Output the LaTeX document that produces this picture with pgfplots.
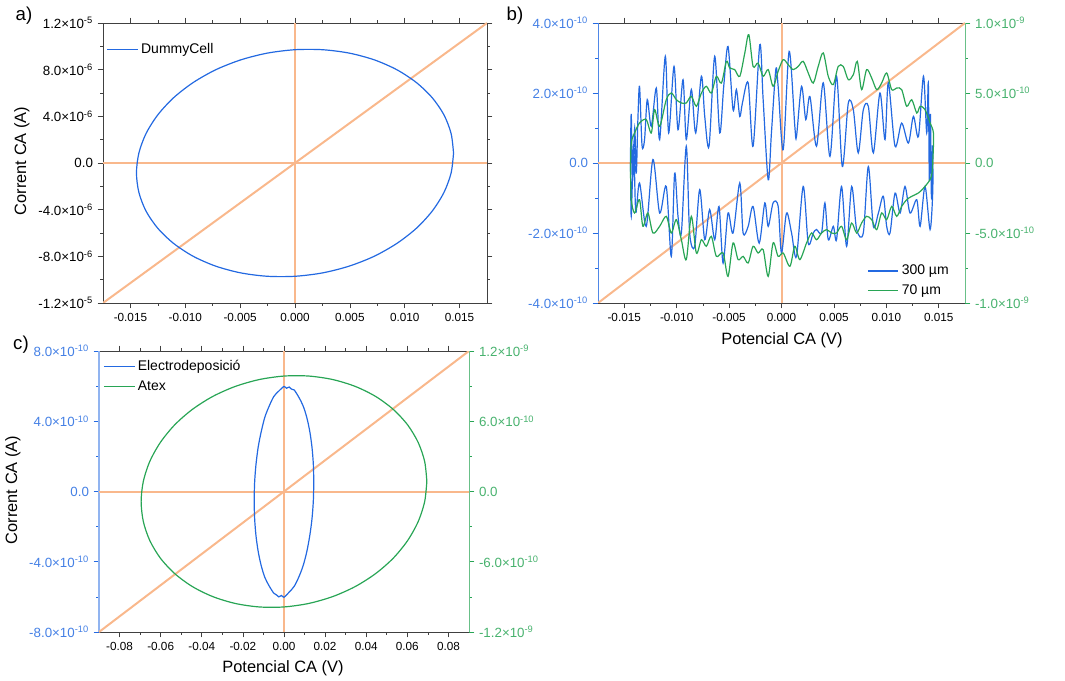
\documentclass[border=0pt]{standalone}
\usepackage{pgfplots}
\pgfplotsset{compat=1.18}
\usepackage{fontspec}
\setmainfont{Liberation Sans}
\definecolor{cblue}{RGB}{35,105,225}
\definecolor{cgreen}{RGB}{40,165,85}
\definecolor{corange}{RGB}{249,184,140}
\newcommand{\sci}[2]{#1×10\textsuperscript{\fontsize{7}{8}\selectfont #2}}
\pgfplotsset{
  base/.style={scale only axis, anchor=south west, tick align=outside,
    scaled ticks=false,
    major tick length=4pt, minor tick length=2.2pt,
    every tick/.append style={line width=0.5pt, black!75},
    x tick label style={font=\fontsize{8.8}{10}\selectfont},
    y tick label style={font=\fontsize{10}{11}\selectfont},
    axis line style={line width=0.6pt, black!75},
    legend style={draw=none, fill=none, font=\fontsize{10.5}{12.5}\selectfont, inner sep=1pt, row sep=2pt},
    legend cell align=left,
    legend image code/.code={\draw[##1] (0pt,0pt) -- (23pt,0pt);},
    minor x tick num=1, minor y tick num=1, clip=true},
  oline/.style={draw=corange, line width=1.5pt, forget plot},
}
\begin{document}
\begin{tikzpicture}
\path (0,0) rectangle (798.75pt,510pt);
% ---------------- panel a
\begin{axis}[base, at={(77.25pt,282.75pt)}, width=288pt, height=210pt,
  xmin=-0.0175, xmax=0.0175, ymin=-1.2e-5, ymax=1.2e-5,
  xtick={-0.015,-0.01,-0.005,0,0.005,0.01,0.015},
  xticklabels={-0.015,-0.010,-0.005,0.000,0.005,0.010,0.015},
  ytick={-1.2e-5,-8e-6,-4e-6,0,4e-6,8e-6,1.2e-5},
  yticklabels={{\sci{-1.2}{-5}},{\sci{-8.0}{-6}},{\sci{-4.0}{-6}},0.0,{\sci{4.0}{-6}},{\sci{8.0}{-6}},{\sci{1.2}{-5}}},
  xticklabel pos=lower, yticklabel pos=left,
  legend style={at={(rel axis cs:0,1)}, anchor=north west, xshift=1.5pt, yshift=-12pt}]
\addplot[oline] coordinates {(-0.0175,0)(0.0175,0)};
\addplot[oline] coordinates {(0,-1.2e-5)(0,1.2e-5)};
\addplot[oline] coordinates {(-0.0175,-1.2e-5)(0.0175,1.2e-5)};
\addplot[cblue, line width=0.9pt, smooth] coordinates {
(0.01445,0.85e-6)(0.01423,2.52e-6)(0.01358,4.12e-6)(0.01251,5.59e-6)(0.01107,6.89e-6)
(0.00929,7.99e-6)(0.00723,8.84e-6)(0.00494,9.42e-6)(0.00251,9.71e-6)(0,9.71e-6)
(-0.00251,9.42e-6)(-0.00494,8.84e-6)(-0.00723,7.99e-6)(-0.00929,6.89e-6)(-0.01107,5.59e-6)
(-0.01251,4.12e-6)(-0.01358,2.52e-6)(-0.01423,0.85e-6)(-0.01445,-0.85e-6)(-0.01423,-2.52e-6)
(-0.01358,-4.12e-6)(-0.01251,-5.59e-6)(-0.01107,-6.89e-6)(-0.00929,-7.99e-6)(-0.00723,-8.84e-6)
(-0.00494,-9.42e-6)(-0.00251,-9.71e-6)(0,-9.71e-6)(0.00251,-9.42e-6)(0.00494,-8.84e-6)
(0.00723,-7.99e-6)(0.00929,-6.89e-6)(0.01107,-5.59e-6)(0.01251,-4.12e-6)(0.01358,-2.52e-6)
(0.01423,-0.85e-6)(0.01445,0.85e-6)};
\addlegendentry{DummyCell}
\end{axis}
% ---------------- panel b (left axis)
\begin{axis}[base, at={(448.5pt,282.75pt)}, width=275.25pt, height=210pt,
  axis y line*=left, axis x line*=box,
  xmin=-0.0175, xmax=0.0175, ymin=-4e-10, ymax=4e-10,
  xtick={-0.015,-0.01,-0.005,0,0.005,0.01,0.015},
  xticklabels={-0.015,-0.010,-0.005,0.000,0.005,0.010,0.015},
  xticklabel pos=lower,
  ytick={-4e-10,-2e-10,0,2e-10,4e-10},
  yticklabels={{\sci{-4.0}{-10}},{\sci{-2.0}{-10}},0.0,{\sci{2.0}{-10}},{\sci{4.0}{-10}}},
  y axis line style={cblue!80}, every y tick/.append style={cblue},
  yticklabel style={text=cblue!85}]
\addplot[oline] coordinates {(-0.0175,0)(0.0175,0)};
\addplot[oline] coordinates {(0,-4e-10)(0,4e-10)};
\addplot[oline] coordinates {(-0.0175,-4e-10)(0.0175,4e-10)};
\addplot[cblue, line width=0.9pt, smooth] coordinates {
(-0.01440,0.20e-10)(-0.01433,1.40e-10)(-0.01420,-0.50e-10)(-0.01400,1.00e-10)(-0.01385,-0.30e-10)
(-0.01370,1.20e-10)(-0.01354,2.19e-10)(-0.01330,0.50e-10)(-0.01306,0.67e-10)(-0.01280,1.81e-10)
(-0.01242,1.05e-10)(-0.01194,2.14e-10)(-0.01162,0.67e-10)(-0.01108,3.05e-10)(-0.01076,0.86e-10)
(-0.01025,2.76e-10)(-0.00987,0.95e-10)(-0.00939,2.38e-10)(-0.00908,0.67e-10)(-0.00860,2.10e-10)
(-0.00818,0.86e-10)(-0.00764,2.48e-10)(-0.00732,1.33e-10)(-0.00691,0.48e-10)(-0.00637,3.05e-10)
(-0.00589,0.86e-10)(-0.00551,2.19e-10)(-0.00510,3.33e-10)(-0.00462,1.52e-10)(-0.00430,2.10e-10)
(-0.00398,1.33e-10)(-0.00373,1.71e-10)(-0.00318,2.29e-10)(-0.00271,0.48e-10)(-0.00207,3.38e-10)
(-0.00175,1.81e-10)(-0.00127,-0.48e-10)(-0.00096,0.86e-10)(-0.00054,2.67e-10)(-0.00032,2.19e-10)
(0.00016,0.38e-10)(0.00073,3.19e-10)(0.00127,1.05e-10)(0.00143,0.76e-10)(0.00191,2.19e-10)
(0.00232,1.24e-10)(0.00271,1.90e-10)(0.00334,0.48e-10)(0.00398,2.29e-10)(0.00462,0.19e-10)
(0.00525,2.48e-10)(0.00580,-0.10e-10)(0.00637,1.71e-10)(0.00685,1.52e-10)(0.00732,0.29e-10)
(0.00780,1.52e-10)(0.00828,1.62e-10)(0.00876,0.29e-10)(0.00939,2.00e-10)(0.00987,0.67e-10)
(0.01019,2.29e-10)(0.01083,0.48e-10)(0.01146,1.14e-10)(0.01210,0.57e-10)(0.01258,1.33e-10)
(0.01306,0.76e-10)(0.01354,2.48e-10)(0.01385,0.86e-10)(0.01400,2.30e-10)(0.01410,-0.50e-10)
(0.01420,1.40e-10)(0.01430,-1.00e-10)(0.01440,0.50e-10)
(0.01443,-0.76e-10)(0.01417,-1.90e-10)(0.01369,-0.67e-10)(0.01322,-1.81e-10)(0.01290,-1.05e-10)
(0.01226,-1.43e-10)(0.01178,-0.67e-10)(0.01131,-1.43e-10)(0.01083,-0.86e-10)(0.01035,-2.00e-10)
(0.01003,-1.81e-10)(0.00971,-0.95e-10)(0.00924,-1.43e-10)(0.00876,-1.81e-10)(0.00828,-0.10e-10)
(0.00780,-2.00e-10)(0.00717,-1.90e-10)(0.00669,-0.67e-10)(0.00621,-2.38e-10)(0.00573,-0.67e-10)
(0.00525,-2.19e-10)(0.00494,-1.81e-10)(0.00446,-2.19e-10)(0.00414,-1.14e-10)(0.00382,-2.00e-10)
(0.00334,-1.90e-10)(0.00303,-2.00e-10)(0.00255,-2.29e-10)(0.00207,-0.67e-10)(0.00143,-2.67e-10)
(0.00096,-2.00e-10)(0.00048,-1.43e-10)(0.00000,-2.57e-10)(-0.00032,-1.24e-10)(-0.00080,-1.14e-10)
(-0.00127,-1.81e-10)(-0.00159,-1.14e-10)(-0.00213,-2.29e-10)(-0.00271,-1.24e-10)(-0.00318,-1.81e-10)
(-0.00366,-2.00e-10)(-0.00398,-0.57e-10)(-0.00462,-2.00e-10)(-0.00510,-1.43e-10)(-0.00557,-2.86e-10)
(-0.00596,-1.24e-10)(-0.00637,-2.19e-10)(-0.00685,-1.33e-10)(-0.00732,-2.19e-10)(-0.00780,-0.76e-10)
(-0.00828,-2.38e-10)(-0.00876,-2.00e-10)(-0.00908,0.48e-10)(-0.00955,-2.00e-10)(-0.00987,-1.52e-10)
(-0.01019,-0.29e-10)(-0.01051,-2.67e-10)(-0.01099,-0.67e-10)(-0.01162,-1.43e-10)(-0.01226,0.10e-10)
(-0.01290,-1.81e-10)(-0.01354,-0.57e-10)(-0.01390,-1.40e-10)(-0.01410,0.50e-10)(-0.01433,-1.52e-10)
(-0.01440,0.20e-10)};
\end{axis}
% ---------------- panel b (right axis)
\begin{axis}[base, at={(448.5pt,282.75pt)}, width=275.25pt, height=210pt,
  axis y line*=right, axis x line=none, xtick=\empty,
  xmin=-0.0175, xmax=0.0175, ymin=-1e-9, ymax=1e-9,
  ytick={-1e-9,-5e-10,0,5e-10,1e-9},
  yticklabels={{\sci{-1.0}{-9}},{\sci{-5.0}{-10}},0.0,{\sci{5.0}{-10}},{\sci{1.0}{-9}}},
  y axis line style={cgreen!70}, every y tick/.append style={cgreen},
  yticklabel style={text=cgreen!85},
  legend style={at={(rel axis cs:1,0)}, anchor=south east, xshift=-9pt, yshift=1.5pt}]
\addlegendimage{cblue, line width=0.9pt}
\addlegendentry{300 µm}
\addplot[cgreen, line width=0.9pt, smooth] coordinates {
(-0.01440,-0.50e-10)(-0.01433,1.43e-10)(-0.01401,2.14e-10)(-0.01354,2.86e-10)(-0.01290,3.10e-10)
(-0.01242,2.14e-10)(-0.01210,3.81e-10)(-0.01162,2.62e-10)(-0.01099,4.52e-10)(-0.01051,5.00e-10)
(-0.01003,4.52e-10)(-0.00955,4.29e-10)(-0.00908,4.29e-10)(-0.00860,4.76e-10)(-0.00812,4.05e-10)
(-0.00764,5.00e-10)(-0.00717,5.48e-10)(-0.00669,5.00e-10)(-0.00621,6.19e-10)(-0.00573,5.71e-10)
(-0.00525,7.26e-10)(-0.00494,6.79e-10)(-0.00446,6.67e-10)(-0.00398,6.19e-10)(-0.00350,7.86e-10)
(-0.00312,9.17e-10)(-0.00271,6.90e-10)(-0.00223,7.14e-10)(-0.00175,6.19e-10)(-0.00127,6.67e-10)
(-0.00080,5.48e-10)(-0.00032,6.55e-10)(0.00016,7.38e-10)(0.00064,7.02e-10)(0.00111,6.67e-10)
(0.00159,6.90e-10)(0.00207,7.26e-10)(0.00255,6.43e-10)(0.00303,5.71e-10)(0.00350,6.90e-10)
(0.00398,7.86e-10)(0.00446,6.19e-10)(0.00494,5.60e-10)(0.00541,6.90e-10)(0.00589,6.90e-10)
(0.00637,5.95e-10)(0.00685,6.31e-10)(0.00723,7.26e-10)(0.00764,5.24e-10)(0.00812,6.67e-10)
(0.00860,6.07e-10)(0.00908,5.24e-10)(0.00955,5.71e-10)(0.01003,6.43e-10)(0.01051,5.24e-10)
(0.01099,5.36e-10)(0.01146,5.24e-10)(0.01194,4.05e-10)(0.01242,4.52e-10)(0.01290,3.57e-10)
(0.01322,4.05e-10)(0.01369,3.81e-10)(0.01417,2.86e-10)(0.01449,2.14e-10)(0.01445,0.48e-10)
(0.01430,-0.95e-10)(0.01369,-1.67e-10)(0.01306,-2.14e-10)(0.01242,-2.38e-10)(0.01194,-2.62e-10)
(0.01146,-3.10e-10)(0.01099,-3.81e-10)(0.01051,-3.10e-10)(0.01003,-4.05e-10)(0.00955,-3.57e-10)
(0.00908,-4.76e-10)(0.00860,-4.05e-10)(0.00812,-3.81e-10)(0.00764,-4.29e-10)(0.00717,-5.00e-10)
(0.00669,-4.29e-10)(0.00621,-5.48e-10)(0.00573,-4.52e-10)(0.00525,-5.00e-10)(0.00478,-5.00e-10)
(0.00430,-4.76e-10)(0.00382,-5.00e-10)(0.00334,-5.48e-10)(0.00287,-5.00e-10)(0.00239,-5.71e-10)
(0.00175,-6.90e-10)(0.00127,-5.95e-10)(0.00080,-7.38e-10)(0.00016,-6.43e-10)(-0.00032,-6.67e-10)
(-0.00080,-5.71e-10)(-0.00127,-8.10e-10)(-0.00175,-6.19e-10)(-0.00223,-6.43e-10)(-0.00271,-5.95e-10)
(-0.00318,-7.14e-10)(-0.00366,-6.67e-10)(-0.00414,-6.90e-10)(-0.00462,-5.71e-10)(-0.00510,-8.10e-10)
(-0.00557,-6.43e-10)(-0.00621,-6.67e-10)(-0.00669,-5.24e-10)(-0.00717,-5.95e-10)(-0.00764,-5.48e-10)
(-0.00812,-6.43e-10)(-0.00860,-3.81e-10)(-0.00908,-6.90e-10)(-0.00955,-5.48e-10)(-0.01003,-4.05e-10)
(-0.01051,-5.00e-10)(-0.01099,-3.81e-10)(-0.01162,-4.52e-10)(-0.01226,-5.00e-10)(-0.01274,-3.57e-10)
(-0.01322,-4.52e-10)(-0.01354,-2.62e-10)(-0.01401,-3.57e-10)(-0.01433,-2.62e-10)(-0.01440,-0.50e-10)};
\addlegendentry{70 µm}
\end{axis}
% ---------------- panel c (left axis)
\begin{axis}[base, at={(74.25pt,36pt)}, width=277.5pt, height=210.75pt,
  axis y line*=left, axis x line*=box,
  xmin=-0.09, xmax=0.09, ymin=-8e-10, ymax=8e-10,
  xtick={-0.08,-0.06,-0.04,-0.02,0,0.02,0.04,0.06,0.08},
  xticklabels={-0.08,-0.06,-0.04,-0.02,0.00,0.02,0.04,0.06,0.08},
  xticklabel pos=lower,
  ytick={-8e-10,-4e-10,0,4e-10,8e-10},
  yticklabels={{\sci{-8.0}{-10}},{\sci{-4.0}{-10}},0.0,{\sci{4.0}{-10}},{\sci{8.0}{-10}}},
  y axis line style={cblue!50, line width=1.2pt}, every y tick/.append style={cblue},
  yticklabel style={text=cblue!85}]
\addplot[oline] coordinates {(-0.09,0)(0.09,0)};
\addplot[oline] coordinates {(0,-8e-10)(0,8e-10)};
\addplot[oline] coordinates {(-0.09,-8e-10)(0.09,8e-10)};
\addplot[cblue, line width=0.9pt, smooth] coordinates {
(0.0145,0.52e-10)(0.01428,1.54e-10)(0.01363,2.51e-10)(0.01256,3.41e-10)(0.01111,4.21e-10)
(0.00932,4.87e-10)(0.00725,5.36e-10)(0.00496,5.78e-10)(0.00352,5.84e-10)(0.00252,5.95e-10)(0.00120,5.88e-10)(0,5.98e-10)
(-0.00252,5.72e-10)(-0.00496,5.41e-10)(-0.00725,4.85e-10)(-0.00932,4.23e-10)(-0.01111,3.39e-10)
(-0.01256,2.52e-10)(-0.01363,1.53e-10)(-0.01428,0.53e-10)(-0.0145,-0.52e-10)(-0.01428,-1.54e-10)
(-0.01363,-2.51e-10)(-0.01256,-3.41e-10)(-0.01111,-4.21e-10)(-0.00932,-4.89e-10)(-0.00725,-5.37e-10)
(-0.00496,-5.79e-10)(-0.00352,-5.90e-10)(-0.00252,-6.00e-10)(-0.00120,-5.92e-10)(0,-6.02e-10)(0.00252,-5.73e-10)(0.00496,-5.40e-10)
(0.00725,-4.86e-10)(0.00932,-4.22e-10)(0.01111,-3.42e-10)(0.01256,-2.50e-10)(0.01363,-1.55e-10)
(0.01428,-0.52e-10)(0.0145,0.52e-10)};
\end{axis}
% ---------------- panel c (right axis)
\begin{axis}[base, at={(74.25pt,36pt)}, width=277.5pt, height=210.75pt,
  axis y line*=right, axis x line=none, xtick=\empty,
  xmin=-0.09, xmax=0.09, ymin=-1.2e-9, ymax=1.2e-9,
  ytick={-1.2e-9,-6e-10,0,6e-10,1.2e-9},
  yticklabels={{\sci{-1.2}{-9}},{\sci{-6.0}{-10}},0.0,{\sci{6.0}{-10}},{\sci{1.2}{-9}}},
  y axis line style={cgreen!70}, every y tick/.append style={cgreen},
  yticklabel style={text=cgreen!85},
  legend style={at={(rel axis cs:0,1)}, anchor=north west, xshift=2pt, yshift=-4pt}]
\addlegendimage{cblue, line width=0.9pt}
\addlegendentry{Electrodeposició}
\addplot[cgreen, line width=0.9pt, smooth] coordinates {
(0.0695,0.86e-10)(0.06844,2.56e-10)(0.06531,4.18e-10)(0.06019,5.68e-10)(0.05324,7.00e-10)
(0.04467,8.11e-10)(0.03475,8.97e-10)(0.02377,9.56e-10)(0.01207,9.86e-10)(0,9.86e-10)
(-0.01207,9.56e-10)(-0.02377,8.97e-10)(-0.03475,8.11e-10)(-0.04467,7.00e-10)(-0.05324,5.68e-10)
(-0.06019,4.18e-10)(-0.06531,2.56e-10)(-0.06844,0.86e-10)(-0.0695,-0.86e-10)(-0.06844,-2.56e-10)
(-0.06531,-4.18e-10)(-0.06019,-5.68e-10)(-0.05324,-7.00e-10)(-0.04467,-8.11e-10)(-0.03475,-8.97e-10)
(-0.02377,-9.56e-10)(-0.01207,-9.86e-10)(0,-9.86e-10)(0.01207,-9.56e-10)(0.02377,-8.97e-10)
(0.03475,-8.11e-10)(0.04467,-7.00e-10)(0.05324,-5.68e-10)(0.06019,-4.18e-10)(0.06531,-2.56e-10)
(0.06844,-0.86e-10)(0.0695,0.86e-10)};
\addlegendentry{Atex}
\end{axis}
% ---------------- labels
\node[font=\fontsize{14}{16}\selectfont] at (18pt,498pt) {a)};
\node[font=\fontsize{14}{16}\selectfont] at (386.25pt,498pt) {b)};
\node[font=\fontsize{14}{16}\selectfont] at (15.75pt,251.25pt) {c)};
\node[rotate=90, font=\fontsize{12.3}{14}\selectfont] at (16.5pt,389.25pt) {Corrent CA (A)};
\node[rotate=90, font=\fontsize{12.3}{14}\selectfont] at (9.75pt,142.5pt) {Corrent CA (A)};
\node[font=\fontsize{12.3}{14}\selectfont] at (586.5pt,255pt) {Potencial CA (V)};
\node[font=\fontsize{12.3}{14}\selectfont] at (212.25pt,9pt) {Potencial CA (V)};
\end{tikzpicture}
\end{document}
